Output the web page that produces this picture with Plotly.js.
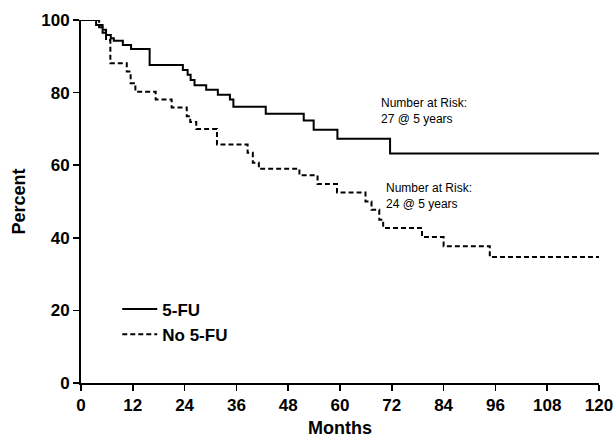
<!DOCTYPE html>
<html>
<head>
<meta charset="utf-8">
<script src="https://cdn.plot.ly/plotly-3.0.1.min.js"></script>
<style>html,body{margin:0;padding:0;background:#fff;}#chart{width:616px;height:438px;}</style>
</head>
<body>
<div id="chart"></div>
<script>
// 5-FU arm: month at which each level starts, and survival percent
const monthsFU = [0, 3.5, 5.0, 5.8, 6.9, 7.6, 9.7, 11.6, 15.9, 23.6, 24.7, 25.4, 26.3, 29.0, 31.7, 34.5, 35.3, 42.8, 51.6, 53.9, 59.4, 71.6, 120];
const percentFU = [100, 98.6, 97.3, 95.9, 95.0, 94.3, 93.1, 92.0, 87.6, 86.2, 84.9, 83.5, 82.0, 80.8, 79.4, 78.1, 76.1, 74.2, 72.3, 69.8, 67.3, 63.2, 63.2];

// No 5-FU arm
const monthsNo = [0, 4.2, 5.0, 5.8, 6.8, 10.6, 11.5, 12.6, 17.3, 21.0, 24.5, 25.3, 26.7, 31.5, 38.6, 39.8, 41.2, 50.6, 54.8, 59.3, 65.9, 67.3, 69.1, 70.0, 79.0, 84.0, 94.7, 120];
const percentNo = [100, 98.0, 96.5, 94.5, 88.1, 85.8, 82.6, 80.2, 78.1, 75.9, 73.5, 71.9, 70.0, 65.7, 63.4, 60.7, 59.0, 57.2, 54.8, 52.5, 50.0, 47.7, 45.0, 42.7, 40.2, 37.7, 34.7, 34.7];

const seriesNames = ["5-FU", "No 5-FU"];
const xTicks = [0, 12, 24, 36, 48, 60, 72, 84, 96, 108, 120];
const yTicks = [0, 20, 40, 60, 80, 100];
const riskNotes = ["Number at Risk:<br>27 @ 5 years", "Number at Risk:<br>24 @ 5 years"];

const FONT = "Liberation Sans, Arial, Helvetica, sans-serif";

const traces = [
  {x: monthsFU, y: percentFU, name: seriesNames[0], type: "scatter", mode: "lines",
   line: {shape: "hv", color: "#000", width: 2}, cliponaxis: false},
  {x: monthsNo, y: percentNo, name: seriesNames[1], type: "scatter", mode: "lines",
   line: {shape: "hv", color: "#000", width: 2, dash: "5px,3px"}, cliponaxis: false}
];

const axisCommon = {
  showgrid: false, zeroline: false, showline: true, linecolor: "#000", linewidth: 2,
  ticks: "outside", ticklen: 6, tickwidth: 1.5, tickcolor: "#000",
  tickfont: {family: FONT, size: 17, weight: "bold", color: "#000"}
};

const layout = {
  width: 616, height: 438,
  margin: {l: 81, r: 17, t: 20, b: 55},
  paper_bgcolor: "#fff", plot_bgcolor: "#fff",
  showlegend: true,
  legend: {x: 0.07, y: 0.252, xanchor: "left", yanchor: "top", itemwidth: 35,
           font: {family: FONT, size: 17, weight: "bold", color: "#000"},
           bgcolor: "rgba(0,0,0,0)", tracegroupgap: 0},
  xaxis: Object.assign({}, axisCommon, {
    range: [0, 120], tickmode: "array", tickvals: xTicks, ticktext: xTicks.map(String),
    title: {text: "Months", font: {family: FONT, size: 18, weight: "bold", color: "#000"}, standoff: 12}
  }),
  yaxis: Object.assign({}, axisCommon, {
    range: [0, 100], tickmode: "array", tickvals: yTicks, ticktext: yTicks.map(String),
    title: {text: "Percent", font: {family: FONT, size: 18, weight: "bold", color: "#000"}, standoff: 11}
  }),
  annotations: [
    {x: 69.1, y: 74.8, xref: "x", yref: "y", text: riskNotes[0], showarrow: false,
     xanchor: "left", yanchor: "middle", align: "left",
     font: {family: FONT, size: 12, color: "#000"}},
    {x: 70.3, y: 51.6, xref: "x", yref: "y", text: riskNotes[1], showarrow: false,
     xanchor: "left", yanchor: "middle", align: "left",
     font: {family: FONT, size: 12, color: "#000"}}
  ]
};

Plotly.newPlot("chart", traces, layout, {staticPlot: true, displayModeBar: false});
</script>
</body>
</html>
